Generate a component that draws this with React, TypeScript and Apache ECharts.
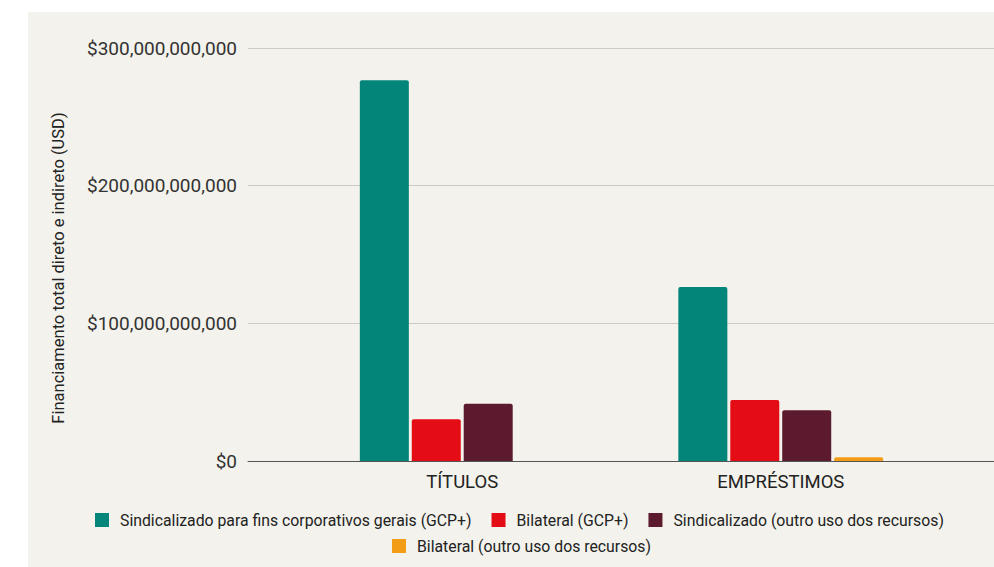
import React, { useEffect, useRef } from "react";
import * as echarts from "echarts";

const categories = ["TÍTULOS", "EMPRÉSTIMOS"];
const seriesNames = [
  "Sindicalizado para fins corporativos gerais (GCP+)",
  "Bilateral (GCP+)",
  "Sindicalizado (outro uso dos recursos)",
  "Bilateral (outro uso dos recursos)",
];
const sindicalizadoGCP = [276.5e9, 126.4e9];
const bilateralGCP = [30.3e9, 44.3e9];
const sindicalizadoOutro = [41.6e9, 36.8e9];
const bilateralOutro = [null, 2.7e9];
const colors = ["#03857a", "#e40d15", "#5c1a2e", "#f29c18"];
const yTicks = [0, 100e9, 200e9, 300e9];
const yTitle = "Financiamento total direto e indireto (USD)";

const FONT = "Roboto";

export default function App() {
  const ref = useRef<HTMLDivElement>(null);
  useEffect(() => {
    if (!ref.current) return;
    const chart = echarts.init(ref.current, undefined, { renderer: "svg" });
    const values = [sindicalizadoGCP, bilateralGCP, sindicalizadoOutro, bilateralOutro];
    const fmt = (v: number) => "$" + Math.round(v).toLocaleString("en-US");
    const legendText = { color: "#222", fontSize: 15.8, fontFamily: FONT, padding: [0, 0, 0, 6] };
    chart.setOption({
      animation: false,
      backgroundColor: "#f3f2ec",
      textStyle: { fontFamily: FONT },
      grid: [
        { left: 220, right: 0, top: 36, bottom: 106 },
        { left: 275, right: 54, top: 36, bottom: 106 },
      ],
      xAxis: [
        {
          gridIndex: 0,
          type: "value",
          min: 0,
          max: 1,
          axisLine: { show: true, onZero: false, lineStyle: { color: "#555", width: 1 } },
          axisTick: { show: false },
          axisLabel: { show: false },
          splitLine: { show: false },
        },
        {
          gridIndex: 1,
          type: "category",
          data: categories,
          axisLine: { show: false },
          axisTick: { show: false },
          axisLabel: { color: "#222", fontSize: 18.5, margin: 11, fontFamily: FONT },
        },
      ],
      yAxis: [
        {
          gridIndex: 0,
          type: "value",
          min: yTicks[0],
          max: yTicks[yTicks.length - 1],
          interval: yTicks[1] - yTicks[0],
          axisLine: { show: false },
          axisTick: { show: false },
          axisLabel: { color: "#333", fontSize: 19, margin: 11, formatter: fmt, fontFamily: FONT },
          splitLine: { show: true, lineStyle: { color: "#cbcac5", width: 1 } },
        },
        {
          gridIndex: 1,
          type: "value",
          min: yTicks[0],
          max: yTicks[yTicks.length - 1],
          show: false,
          splitLine: { show: false },
        },
      ],
      legend: [
        {
          data: seriesNames.slice(0, 3),
          left: 62,
          top: 495,
          itemWidth: 14,
          itemHeight: 14,
          itemGap: 20,
          icon: "rect",
          textStyle: legendText,
        },
        {
          data: seriesNames.slice(3),
          left: 359,
          top: 521,
          itemWidth: 14,
          itemHeight: 14,
          itemGap: 20,
          icon: "rect",
          textStyle: legendText,
        },
      ],
      graphic: [
        {
          type: "text",
          x: 30,
          y: 256,
          rotation: Math.PI / 2,
          style: {
            text: yTitle,
            fill: "#222",
            font: `16.5px ${FONT}`,
            align: "center",
            verticalAlign: "middle",
          },
        },
      ],
      series: seriesNames.map((name, i) => ({
        name,
        type: "bar",
        xAxisIndex: 1,
        yAxisIndex: 1,
        data: values[i],
        barWidth: 49,
        barGap: "6%",
        itemStyle: { color: colors[i], borderRadius: [2, 2, 0, 0] },
      })),
    });
    return () => chart.dispose();
  }, []);
  return (
    <div style={{ position: "fixed", left: 0, top: 0, width: 994, height: 567, background: "#fff" }}>
      <div
        ref={ref}
        style={{ position: "absolute", left: 28, top: 12, width: 966, height: 555 }}
      />
    </div>
  );
}
